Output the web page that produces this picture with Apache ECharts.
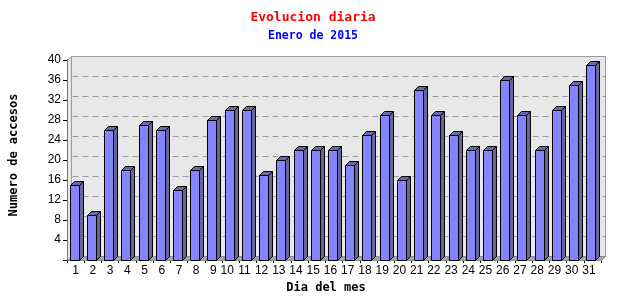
<!DOCTYPE html>
<html><head><meta charset="utf-8">
<script src="https://cdn.jsdelivr.net/npm/echarts@6/dist/echarts.min.js"></script>
<style>html,body{margin:0;padding:0;background:#fff}#c{width:640px;height:300px}</style>
</head><body><div id="c"></div>
<script>
const days = ['1','2','3','4','5','6','7','8','9','10','11','12','13','14','15','16','17','18','19','20','21','22','23','24','25','26','27','28','29','30','31'];
const visits = [15,9,26,18,27,26,14,18,28,30,30,17,20,22,22,22,19,25,29,16,34,29,25,22,22,36,29,22,30,35,39];
const yTicks = [4,8,12,16,20,24,28,32,36,40];
const titleText = 'Evolucion diaria';
const subtitleText = 'Enero de 2015';
const xName = 'Dia del mes';
const yName = 'Numero de accesos';

const D = 4;
const px = v => Math.round(v) + 0.5;

const chart = echarts.init(document.getElementById('c'), null, {renderer: 'canvas'});

function renderWalls(params, api) {
  const cs = params.coordSys;
  const xL = px(cs.x), xR = px(cs.x + cs.width), yT = px(cs.y), yB = px(cs.y + cs.height);
  const children = [];
  children.push({type: 'polygon', shape: {points: [[xL, yB], [xL, yT], [xL + D, yT - D], [xL + D, yB - D]]},
    style: {fill: '#e8e8e8', stroke: null}});
  children.push({type: 'rect', shape: {x: xL + D, y: yT - D, width: xR - xL, height: yB - yT},
    style: {fill: '#e8e8e8', stroke: '#9a9a9a', lineWidth: 1}});
  children.push({type: 'polygon', shape: {points: [[xL, yB], [xR, yB], [xR + D, yB - D], [xL + D, yB - D]]},
    style: {fill: '#a4a4a4', stroke: '#8c8c8c', lineWidth: 1}});
  children.push({type: 'line', shape: {x1: xL, y1: yT, x2: xL + D, y2: yT - D},
    style: {stroke: '#9a9a9a', lineWidth: 1}});
  yTicks.forEach(v => {
    if (v >= 40) return;
    const y = px(api.coord([0, v])[1]) - D;
    children.push({type: 'line', shape: {x1: xL + D + 1, y1: y, x2: xR + D, y2: y},
      style: {stroke: '#9a9a9a', lineWidth: 1, lineDash: [6, 4]}});
  });
  return {type: 'group', children: children};
}

function renderBar(params, api) {
  const idx = api.value(0), val = api.value(1);
  const top = api.coord([idx, val]);
  const base = api.coord([idx, 0]);
  const cx = top[0];
  const fl = px(cx - 6), fr = fl + 9;
  const yTop = px(top[1]), yB = px(base[1]);
  const st = {stroke: '#000', lineWidth: 1};
  return {type: 'group', children: [
    {type: 'polygon', shape: {points: [[fr, yTop], [fr + D, yTop - D], [fr + D, yB - D], [fr, yB]]},
      style: Object.assign({fill: '#666699'}, st)},
    {type: 'polygon', shape: {points: [[fl, yTop], [fl + D, yTop - D], [fr + D, yTop - D], [fr, yTop]]},
      style: Object.assign({fill: '#6a6aa6'}, st)},
    {type: 'rect', shape: {x: fl, y: yTop, width: fr - fl, height: yB - yTop},
      style: Object.assign({fill: '#8484ff'}, st)}
  ]};
}

chart.setOption({
  animation: false,
  backgroundColor: '#fff',
  title: [
    {text: titleText, left: 308, textAlign: 'center', top: 6,
      textStyle: {color: '#ff0000', fontFamily: 'DejaVu Sans Mono', fontSize: 13, fontWeight: 'bold'}},
    {text: subtitleText, left: 308, textAlign: 'center', top: 25,
      textStyle: {color: '#0000ff', fontFamily: 'DejaVu Sans Mono', fontSize: 11.5, fontWeight: 'bold'}}
  ],
  grid: {left: 61, right: 39, top: 60, bottom: 40, containLabel: false},
  xAxis: {
    type: 'category', data: days, boundaryGap: true,
    name: xName, nameLocation: 'middle', nameGap: 22,
    nameTextStyle: {fontFamily: 'DejaVu Sans Mono', fontWeight: 'bold', fontSize: 12, color: '#000', padding: [0, 16, 0, 0]},
    axisLine: {lineStyle: {color: '#000', width: 1}},
    axisTick: {show: true, length: 3, lineStyle: {color: '#000'}},
    axisLabel: {interval: 0, margin: 5, fontFamily: 'Liberation Sans', fontSize: 12, color: '#000',
      formatter: v => v.length > 1 ? '{d2|' + v + '}' : v,
      rich: {d2: {fontFamily: 'Liberation Sans', fontSize: 12, color: '#000', padding: [0, 7, 0, 0]}}},
    splitLine: {show: false}
  },
  yAxis: {
    type: 'value', min: 0, max: 40, interval: 4,
    name: yName, nameLocation: 'middle', nameGap: 47, nameRotate: 90,
    nameTextStyle: {fontFamily: 'DejaVu Sans Mono', fontWeight: 'bold', fontSize: 12, color: '#000', padding: [0, 0, 0, 10]},
    axisLine: {show: true, lineStyle: {color: '#000', width: 1}},
    axisTick: {show: true, length: 4, lineStyle: {color: '#000'}},
    axisLabel: {margin: 6, fontFamily: 'Liberation Sans', fontSize: 12, color: '#000',
      formatter: v => v === 0 ? '' : String(v)},
    splitLine: {show: false}
  },
  series: [
    {type: 'custom', renderItem: renderWalls, data: [[0, 0]], z: 1, silent: true, clip: false},
    {type: 'custom', renderItem: renderBar, data: visits.map((v, i) => [i, v]), z: 3, clip: false}
  ]
});
</script>
</body></html>
